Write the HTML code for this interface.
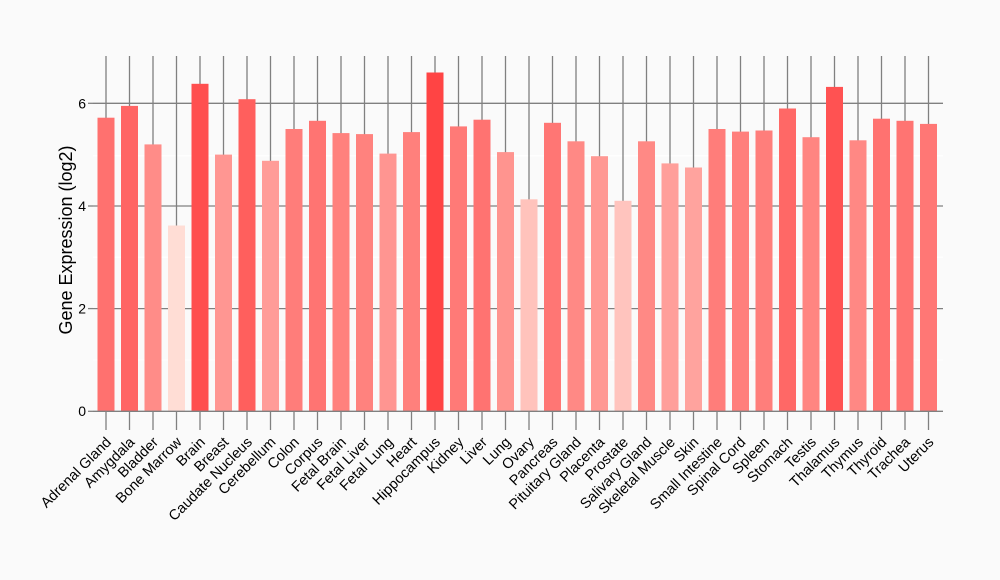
<!DOCTYPE html>
<html><head><meta charset="utf-8"><style>
html,body{margin:0;padding:0;background:#fafafa;}
svg{display:block;font-family:"Liberation Sans",Arial,sans-serif;}
</style></head><body>
<svg width="1000" height="580" viewBox="0 0 1000 580" xmlns="http://www.w3.org/2000/svg">
<rect width="1000" height="580" fill="#fafafa"/>
<g stroke="#ffffff" stroke-width="1">
<line x1="93" x2="943" y1="360" y2="360"/><line x1="93" x2="943" y1="257.3" y2="257.3"/><line x1="93" x2="943" y1="155.7" y2="155.7"/>
</g>
<g stroke="#808080" stroke-width="1.3">
<line x1="93" x2="943" y1="308.6" y2="308.6"/><line x1="93" x2="943" y1="206" y2="206"/><line x1="93" x2="943" y1="103.3" y2="103.3"/>
<line x1="88" x2="93" y1="411.3" y2="411.3"/><line x1="88" x2="93" y1="308.6" y2="308.6"/><line x1="88" x2="93" y1="206" y2="206"/><line x1="88" x2="93" y1="103.3" y2="103.3"/>
<line x1="106" x2="106" y1="56" y2="430"/><line x1="129.5" x2="129.5" y1="56" y2="430"/><line x1="153" x2="153" y1="56" y2="430"/><line x1="176.5" x2="176.5" y1="56" y2="430"/><line x1="200" x2="200" y1="56" y2="430"/><line x1="223.5" x2="223.5" y1="56" y2="430"/><line x1="247" x2="247" y1="56" y2="430"/><line x1="270.5" x2="270.5" y1="56" y2="430"/><line x1="294" x2="294" y1="56" y2="430"/><line x1="317.5" x2="317.5" y1="56" y2="430"/><line x1="341" x2="341" y1="56" y2="430"/><line x1="364.5" x2="364.5" y1="56" y2="430"/><line x1="388" x2="388" y1="56" y2="430"/><line x1="411.5" x2="411.5" y1="56" y2="430"/><line x1="435" x2="435" y1="56" y2="430"/><line x1="458.5" x2="458.5" y1="56" y2="430"/><line x1="482" x2="482" y1="56" y2="430"/><line x1="505.5" x2="505.5" y1="56" y2="430"/><line x1="529" x2="529" y1="56" y2="430"/><line x1="552.5" x2="552.5" y1="56" y2="430"/><line x1="576" x2="576" y1="56" y2="430"/><line x1="599.5" x2="599.5" y1="56" y2="430"/><line x1="623" x2="623" y1="56" y2="430"/><line x1="646.5" x2="646.5" y1="56" y2="430"/><line x1="670" x2="670" y1="56" y2="430"/><line x1="693.5" x2="693.5" y1="56" y2="430"/><line x1="717" x2="717" y1="56" y2="430"/><line x1="740.5" x2="740.5" y1="56" y2="430"/><line x1="764" x2="764" y1="56" y2="430"/><line x1="787.5" x2="787.5" y1="56" y2="430"/><line x1="811" x2="811" y1="56" y2="430"/><line x1="834.5" x2="834.5" y1="56" y2="430"/><line x1="858" x2="858" y1="56" y2="430"/><line x1="881.5" x2="881.5" y1="56" y2="430"/><line x1="905" x2="905" y1="56" y2="430"/><line x1="928.5" x2="928.5" y1="56" y2="430"/>
</g>
<g>
<rect x="97.5" y="117.7" width="17" height="293.6" fill="rgb(255,113,111)"/>
<rect x="121" y="105.9" width="17" height="305.4" fill="rgb(255,101,100)"/>
<rect x="144.5" y="144.4" width="17" height="266.9" fill="rgb(255,140,136)"/>
<rect x="168" y="225.5" width="17" height="185.8" fill="rgb(255,221,213)"/>
<rect x="191.5" y="83.8" width="17" height="327.5" fill="rgb(255,79,79)"/>
<rect x="215" y="154.6" width="17" height="256.7" fill="rgb(255,150,146)"/>
<rect x="238.5" y="99.2" width="17" height="312.1" fill="rgb(255,95,93)"/>
<rect x="262" y="160.8" width="17" height="250.5" fill="rgb(255,156,152)"/>
<rect x="285.5" y="129" width="17" height="282.3" fill="rgb(255,125,122)"/>
<rect x="309" y="120.8" width="17" height="290.5" fill="rgb(255,116,114)"/>
<rect x="332.5" y="133.1" width="17" height="278.2" fill="rgb(255,129,125)"/>
<rect x="356" y="134.1" width="17" height="277.2" fill="rgb(255,130,126)"/>
<rect x="379.5" y="153.6" width="17" height="257.7" fill="rgb(255,149,145)"/>
<rect x="403" y="132.1" width="17" height="279.2" fill="rgb(255,128,124)"/>
<rect x="426.5" y="72.5" width="17" height="338.8" fill="rgb(255,68,68)"/>
<rect x="450" y="126.4" width="17" height="284.9" fill="rgb(255,122,119)"/>
<rect x="473.5" y="119.7" width="17" height="291.6" fill="rgb(255,115,113)"/>
<rect x="497" y="152.1" width="17" height="259.2" fill="rgb(255,148,143)"/>
<rect x="520.5" y="199.3" width="17" height="212" fill="rgb(255,195,188)"/>
<rect x="544" y="122.8" width="17" height="288.5" fill="rgb(255,118,116)"/>
<rect x="567.5" y="141.3" width="17" height="270" fill="rgb(255,137,133)"/>
<rect x="591" y="156.2" width="17" height="255.1" fill="rgb(255,152,147)"/>
<rect x="614.5" y="200.8" width="17" height="210.5" fill="rgb(255,196,190)"/>
<rect x="638" y="141.3" width="17" height="270" fill="rgb(255,137,133)"/>
<rect x="661.5" y="163.4" width="17" height="247.9" fill="rgb(255,159,154)"/>
<rect x="685" y="167.5" width="17" height="243.8" fill="rgb(255,163,158)"/>
<rect x="708.5" y="129" width="17" height="282.3" fill="rgb(255,125,122)"/>
<rect x="732" y="131.6" width="17" height="279.7" fill="rgb(255,127,124)"/>
<rect x="755.5" y="130.5" width="17" height="280.8" fill="rgb(255,126,123)"/>
<rect x="779" y="108.5" width="17" height="302.8" fill="rgb(255,104,102)"/>
<rect x="802.5" y="137.2" width="17" height="274.1" fill="rgb(255,133,129)"/>
<rect x="826" y="86.9" width="17" height="324.4" fill="rgb(255,82,82)"/>
<rect x="849.5" y="140.3" width="17" height="271" fill="rgb(255,136,132)"/>
<rect x="873" y="118.7" width="17" height="292.6" fill="rgb(255,114,112)"/>
<rect x="896.5" y="120.8" width="17" height="290.5" fill="rgb(255,116,114)"/>
<rect x="920" y="123.9" width="17" height="287.4" fill="rgb(255,119,117)"/>
</g>
<line x1="93" x2="943" y1="411.3" y2="411.3" stroke="#808080" stroke-width="1.3"/>
<g font-size="14" fill="#000" text-anchor="end">
<text x="86" y="416">0</text><text x="86" y="313.5">2</text><text x="86" y="211">4</text><text x="86" y="108.5">6</text>
</g>
<text transform="translate(72,240) rotate(-90)" font-size="18" text-anchor="middle">Gene Expression (log2)</text>
<g font-size="14.5" fill="#000" text-anchor="end">
<text transform="translate(112,443) rotate(-45)">Adrenal Gland</text>
<text transform="translate(135.5,443) rotate(-45)">Amygdala</text>
<text transform="translate(159,443) rotate(-45)">Bladder</text>
<text transform="translate(182.5,443) rotate(-45)">Bone Marrow</text>
<text transform="translate(206,443) rotate(-45)">Brain</text>
<text transform="translate(229.5,443) rotate(-45)">Breast</text>
<text transform="translate(253,443) rotate(-45)">Caudate Nucleus</text>
<text transform="translate(276.5,443) rotate(-45)">Cerebellum</text>
<text transform="translate(300,443) rotate(-45)">Colon</text>
<text transform="translate(323.5,443) rotate(-45)">Corpus</text>
<text transform="translate(347,443) rotate(-45)">Fetal Brain</text>
<text transform="translate(370.5,443) rotate(-45)">Fetal Liver</text>
<text transform="translate(394,443) rotate(-45)">Fetal Lung</text>
<text transform="translate(417.5,443) rotate(-45)">Heart</text>
<text transform="translate(441,443) rotate(-45)">Hippocampus</text>
<text transform="translate(464.5,443) rotate(-45)">Kidney</text>
<text transform="translate(488,443) rotate(-45)">Liver</text>
<text transform="translate(511.5,443) rotate(-45)">Lung</text>
<text transform="translate(535,443) rotate(-45)">Ovary</text>
<text transform="translate(558.5,443) rotate(-45)">Pancreas</text>
<text transform="translate(582,443) rotate(-45)">Pituitary Gland</text>
<text transform="translate(605.5,443) rotate(-45)">Placenta</text>
<text transform="translate(629,443) rotate(-45)">Prostate</text>
<text transform="translate(652.5,443) rotate(-45)">Salivary Gland</text>
<text transform="translate(676,443) rotate(-45)">Skeletal Muscle</text>
<text transform="translate(699.5,443) rotate(-45)">Skin</text>
<text transform="translate(723,443) rotate(-45)">Small Intestine</text>
<text transform="translate(746.5,443) rotate(-45)">Spinal Cord</text>
<text transform="translate(770,443) rotate(-45)">Spleen</text>
<text transform="translate(793.5,443) rotate(-45)">Stomach</text>
<text transform="translate(817,443) rotate(-45)">Testis</text>
<text transform="translate(840.5,443) rotate(-45)">Thalamus</text>
<text transform="translate(864,443) rotate(-45)">Thymus</text>
<text transform="translate(887.5,443) rotate(-45)">Thyroid</text>
<text transform="translate(911,443) rotate(-45)">Trachea</text>
<text transform="translate(934.5,443) rotate(-45)">Uterus</text>
</g>
</svg>
</body></html>
